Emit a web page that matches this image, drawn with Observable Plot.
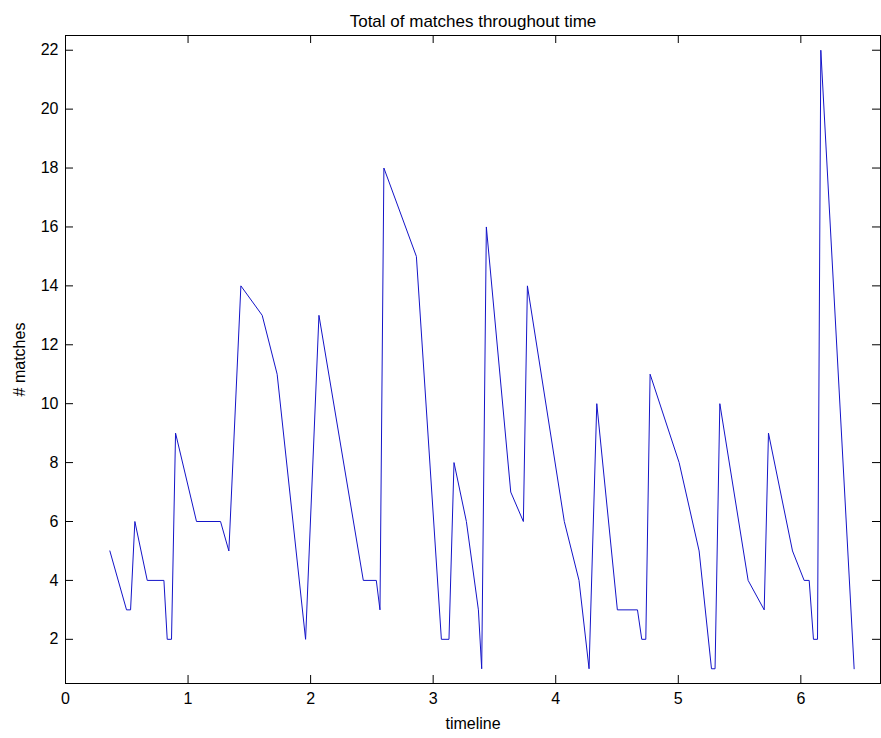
<!DOCTYPE html>
<html>
<head>
<meta charset="utf-8">
<script src="https://cdn.jsdelivr.net/npm/d3@7"></script>
<script src="https://cdn.jsdelivr.net/npm/@observablehq/plot@0.6"></script>
<style>
  html, body { margin: 0; padding: 0; background: #fff; overflow: hidden; }
</style>
</head>
<body>
<div id="chart"></div>
<script>
const title = "Total of matches throughout time";
const xLabel = "timeline";
const yLabel = "# matches";

const timeline = [0.362,0.498,0.531,0.566,0.667,0.803,0.830,0.865,0.898,1.069,
  1.265,1.333,1.431,1.605,1.727,1.959,2.068,2.430,2.536,2.566,
  2.598,2.863,3.067,3.129,3.170,3.271,3.369,3.396,3.434,3.633,
  3.736,3.769,4.070,4.190,4.272,4.335,4.503,4.667,4.702,4.735,
  4.770,5.007,5.170,5.271,5.300,5.339,5.570,5.701,5.736,5.932,
  6.027,6.068,6.103,6.136,6.163,6.435];
const matches = [5,3,3,6,4,4,2,2,9,6,
  6,5,14,13,11,2,13,4,4,3,
  18,15,2,2,8,6,3,1,16,7,
  6,14,6,4,1,10,3,3,2,2,
  11,8,5,1,1,10,4,3,9,5,
  4,4,2,2,22,1];
const xTicks = [0,1,2,3,4,5,6];
const yTicks = [2,4,6,8,10,12,14,16,18,20,22];
const xDomain = [0, 6.65];
const yDomain = [0.5, 22.5];

const data = timeline.map((t, i) => ({t, n: matches[i]}));

const W = 881, H = 738;
const mL = 65, mR = 1, mT = 35, mB = 55;
const fw = W - mL - mR, fh = H - mT - mB;
const tick = 8;

const chart = Plot.plot({
  width: W,
  height: H,
  marginLeft: mL,
  marginRight: mR,
  marginTop: mT,
  marginBottom: mB,
  style: {fontFamily: "'Liberation Sans', Arial, sans-serif", fontSize: "16px", color: "#000", background: "#fff"},
  x: {domain: xDomain},
  y: {domain: yDomain},
  marks: [
    Plot.line(data, {x: "t", y: "n", stroke: "#1414c8", strokeWidth: 1}),
    Plot.tickY(yTicks, {y: d => d, insetRight: fw - tick, stroke: "#000"}),
    Plot.tickY(yTicks, {y: d => d, insetLeft: fw - tick, stroke: "#000"}),
    Plot.tickX(xTicks, {x: d => d, insetTop: fh - tick, stroke: "#000"}),
    Plot.tickX(xTicks, {x: d => d, insetBottom: fh - tick, stroke: "#000"}),
    Plot.axisX(xTicks, {tickSize: 0, tickPadding: 9, tickFormat: d3.format("d"), label: xLabel, labelAnchor: "center", labelArrow: "none", labelOffset: 45, fontSize: 16}),
    Plot.axisY(yTicks, {tickSize: 0, tickPadding: 7, tickFormat: d3.format("d"), label: yLabel, labelAnchor: "center", labelArrow: "none", labelOffset: 52, fontSize: 16}),
    Plot.frame({stroke: "#000"}),
    Plot.text([title], {frameAnchor: "top", dy: -21, fontSize: 17})
  ]
});
document.getElementById("chart").appendChild(chart);
</script>
</body>
</html>
